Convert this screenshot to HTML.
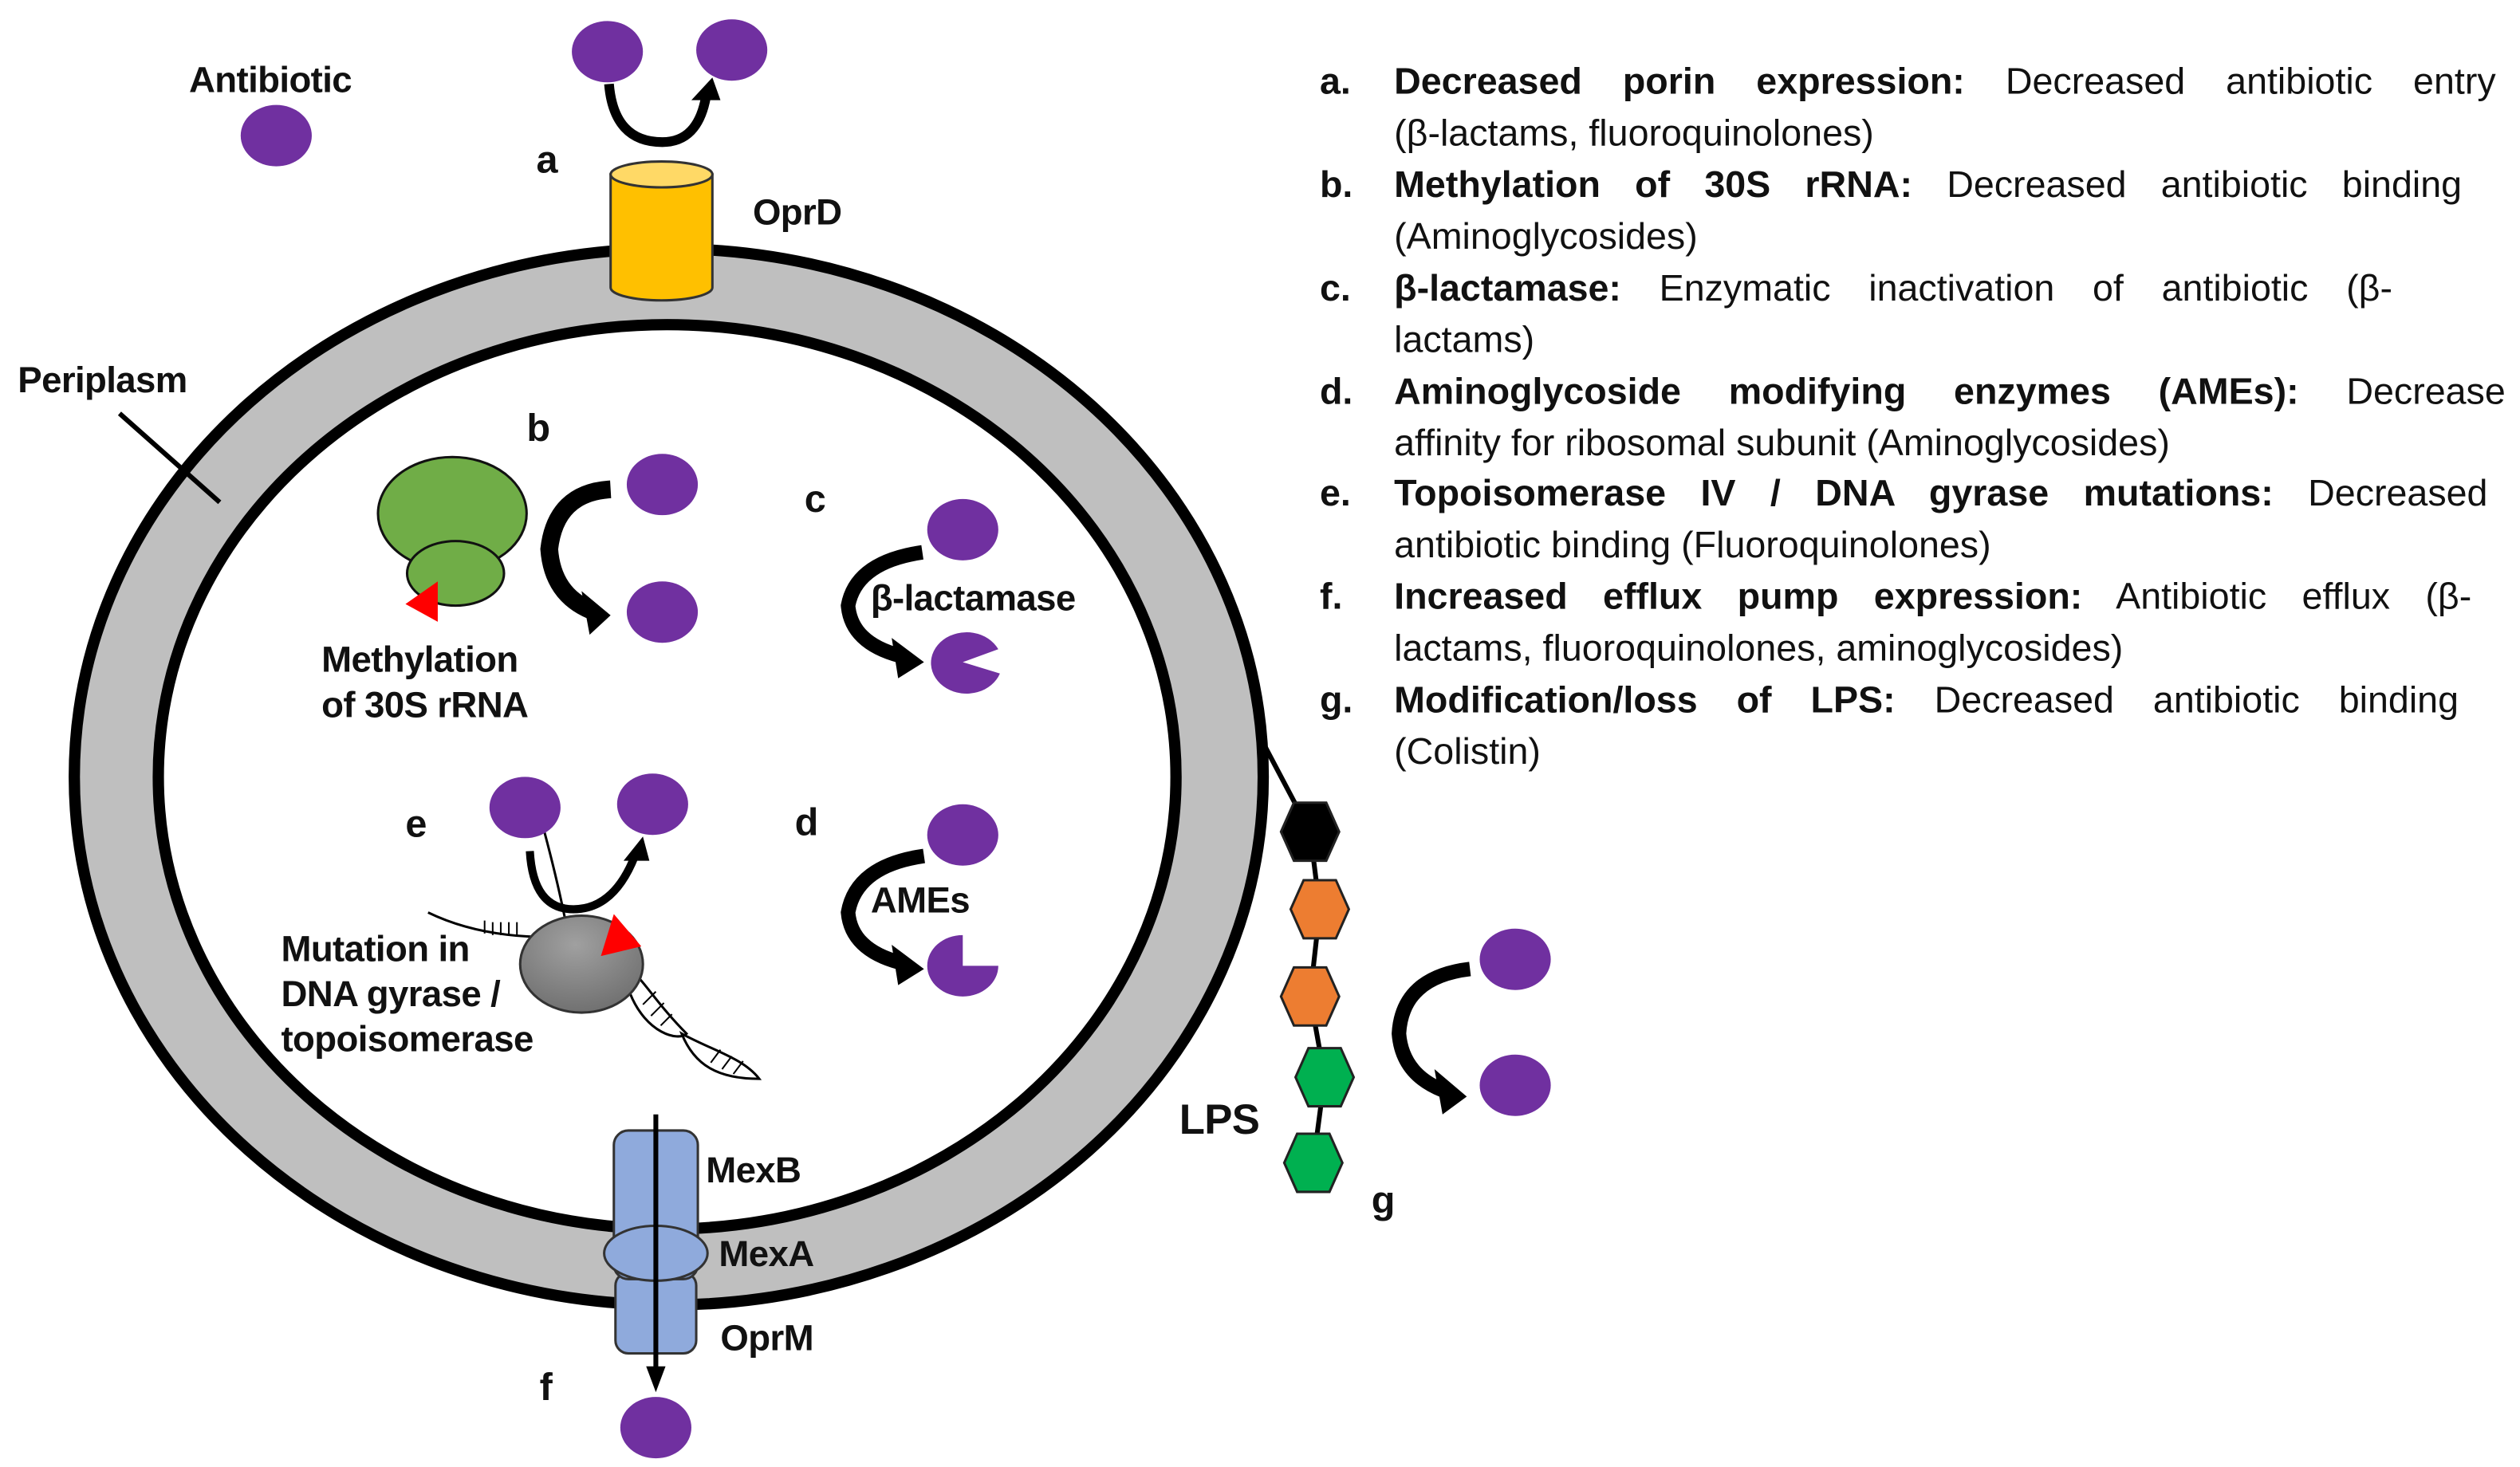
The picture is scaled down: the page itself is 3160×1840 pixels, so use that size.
<!DOCTYPE html>
<html><head><meta charset="utf-8"><style>
html,body{margin:0;padding:0;background:#fff;}
#wrap{width:3160px;height:1840px;overflow:hidden;position:relative;}
#c{position:absolute;left:0;top:0;width:1560px;height:908px;transform:scale(2.02564);transform-origin:0 0;font-family:"Liberation Sans",Arial,sans-serif;}
.lab{position:absolute;font-family:"Liberation Sans",sans-serif;font-weight:bold;font-size:22.5px;color:#111;white-space:nowrap;line-height:1;letter-spacing:-0.3px;}
.L{position:absolute;font-size:23px;color:#111;white-space:nowrap;line-height:1;}
.ln{position:absolute;left:863px;width:682px;font-size:23px;color:#111;line-height:1;text-align:justify;text-align-last:justify;white-space:nowrap;}
.ln.last{text-align-last:left;}
b{font-weight:bold;}
</style></head><body><div id="wrap"><div id="c">
<svg width="1560" height="908" viewBox="0 0 1560 908" style="position:absolute;left:0;top:0">
<defs>
<radialGradient id="gg" cx="0.45" cy="0.3" r="0.8"><stop offset="0" stop-color="#a0a0a0"/><stop offset="1" stop-color="#6a6a6a"/></radialGradient>
</defs>
<ellipse cx="414" cy="481" rx="368" ry="327" fill="#bfbfbf" stroke="#000" stroke-width="7"/>
<ellipse cx="413" cy="481" rx="315" ry="280" fill="#fff" stroke="#000" stroke-width="7"/>
<line x1="74" y1="256" x2="136" y2="311" stroke="#000" stroke-width="3"/>
<ellipse cx="171" cy="84" rx="22" ry="19" fill="#7030a0"/>
<ellipse cx="376" cy="32" rx="22" ry="19" fill="#7030a0"/>
<ellipse cx="453" cy="31" rx="22" ry="19" fill="#7030a0"/>
<path d="M377 52 Q380 88 410 88 Q432 88 437 60" fill="none" stroke="#000" stroke-width="6"/>
<polygon points="428,62 446,62 441,48" fill="#000"/>
<path d="M378 108 L378 178 A31.5 8 0 0 0 441 178 L441 108 Z" fill="#ffc000" stroke="#333" stroke-width="1.5"/>
<ellipse cx="409.5" cy="108" rx="31.5" ry="8" fill="#ffd966" stroke="#333" stroke-width="1.5"/>
<ellipse cx="280" cy="318" rx="46" ry="35" fill="#70ad47" stroke="#111" stroke-width="1.5"/>
<ellipse cx="282" cy="355" rx="30" ry="20" fill="#70ad47" stroke="#111" stroke-width="1.5"/>
<polygon points="251,374 271,360 271,385" fill="#ff0000"/>
<ellipse cx="410" cy="300" rx="22" ry="19" fill="#7030a0"/>
<ellipse cx="410" cy="379" rx="22" ry="19" fill="#7030a0"/>
<path d="M378 303 Q344 305 340 340 Q342 368 366 378" fill="none" stroke="#000" stroke-width="11"/>
<polygon points="360,366 378,381 365,393" fill="#000"/>
<ellipse cx="596" cy="328" rx="22" ry="19" fill="#7030a0"/>
<path d="M571 342 Q530 348 525 375 Q527 398 557 406" fill="none" stroke="#000" stroke-width="9"/>
<polygon points="552,395 572,410 556,420" fill="#000"/>
<path d="M596 410 L618 402 A22 19 0 1 0 619 417 Z" fill="#7030a0"/>
<ellipse cx="596" cy="517" rx="22" ry="19" fill="#7030a0"/>
<path d="M572 530 Q530 536 525 565 Q527 588 557 596" fill="none" stroke="#000" stroke-width="9"/>
<polygon points="552,585 572,600 556,610" fill="#000"/>
<path d="M596 598 L618 598 A22 19 0 1 1 596 579 Z" fill="#7030a0"/>
<path d="M265 565 Q300 582 350 580" fill="none" stroke="#000" stroke-width="1.5"/>
<g stroke="#000" stroke-width="1">
<line x1="300" y1="570" x2="300" y2="578"/><line x1="305" y1="571" x2="305" y2="579"/><line x1="310" y1="571" x2="310" y2="579"/><line x1="315" y1="571" x2="315" y2="579"/><line x1="320" y1="571" x2="320" y2="579"/>
</g>
<path d="M337 515 Q345 545 350 570" fill="none" stroke="#000" stroke-width="1.5"/>
<path d="M390 615 C400 640 420 645 425 640 C410 625 400 610 395 605 Z" fill="#fff" stroke="#000" stroke-width="1.5"/>
<path d="M422 640 C440 650 460 655 470 668 C445 668 430 660 422 640 Z" fill="#fff" stroke="#000" stroke-width="1.5"/>
<g stroke="#000" stroke-width="1"><line x1="398" y1="622" x2="406" y2="614"/><line x1="403" y1="629" x2="411" y2="621"/><line x1="409" y1="635" x2="416" y2="628"/><line x1="440" y1="658" x2="446" y2="650"/><line x1="447" y1="662" x2="453" y2="654"/><line x1="454" y1="665" x2="460" y2="657"/></g>
<ellipse cx="360" cy="597" rx="38" ry="30" fill="url(#gg)" stroke="#333" stroke-width="1.5"/>
<polygon points="372,592 380,566 397,586" fill="#ff0000"/>
<ellipse cx="325" cy="500" rx="22" ry="19" fill="#7030a0"/>
<ellipse cx="404" cy="498" rx="22" ry="19" fill="#7030a0"/>
<path d="M328 527 Q330 563 355 563 Q380 563 393 530" fill="none" stroke="#000" stroke-width="5"/>
<polygon points="386,533 402,533 398,518" fill="#000"/>
<rect x="381" y="788" width="50" height="50" rx="8" fill="#8faadc" stroke="#333" stroke-width="1.5"/>
<rect x="380" y="700" width="52" height="92" rx="9" fill="#8faadc" stroke="#333" stroke-width="1.5"/>
<ellipse cx="406" cy="776" rx="32" ry="17" fill="#8faadc" stroke="#333" stroke-width="1.5"/>
<line x1="406" y1="690" x2="406" y2="848" stroke="#000" stroke-width="3"/>
<polygon points="400,846 412,846 406,862" fill="#000"/>
<ellipse cx="406" cy="884" rx="22" ry="19" fill="#7030a0"/>
<polyline points="783,462 811,515 817,563 811,617 820,667 813,720" fill="none" stroke="#000" stroke-width="3"/>
<g stroke="#222" stroke-width="1.5">
<polygon points="801,497 821,497 829,515 821,533 801,533 793,515" fill="#000"/>
<polygon points="807,545 827,545 835,563 827,581 807,581 799,563" fill="#ed7d31"/>
<polygon points="801,599 821,599 829,617 821,635 801,635 793,617" fill="#ed7d31"/>
<polygon points="810,649 830,649 838,667 830,685 810,685 802,667" fill="#00b050"/>
<polygon points="803,702 823,702 831,720 823,738 803,738 795,720" fill="#00b050"/>
</g>
<ellipse cx="938" cy="594" rx="22" ry="19" fill="#7030a0"/>
<ellipse cx="938" cy="672" rx="22" ry="19" fill="#7030a0"/>
<path d="M910 600 Q868 605 866 640 Q868 665 893 675" fill="none" stroke="#000" stroke-width="9"/>
<polygon points="888,662 908,679 893,690" fill="#000"/>
</svg>
<div class="lab" style="left:117px;top:39px">Antibiotic</div>
<div class="lab" style="left:332px;top:88px;font-size:24px">a</div>
<div class="lab" style="left:466px;top:121px">OprD</div>
<div class="lab" style="left:11px;top:225px">Periplasm</div>
<div class="lab" style="left:326px;top:254px;font-size:24px">b</div>
<div class="lab" style="left:199px;top:398px">Methylation</div>
<div class="lab" style="left:199px;top:426px">of 30S rRNA</div>
<div class="lab" style="left:498px;top:298px;font-size:24px">c</div>
<div class="lab" style="left:539px;top:360px">β-lactamase</div>
<div class="lab" style="left:251px;top:499px;font-size:24px">e</div>
<div class="lab" style="left:174px;top:577px">Mutation in</div>
<div class="lab" style="left:174px;top:605px">DNA gyrase /</div>
<div class="lab" style="left:174px;top:633px">topoisomerase</div>
<div class="lab" style="left:492px;top:498px;font-size:24px">d</div>
<div class="lab" style="left:539px;top:547px">AMEs</div>
<div class="lab" style="left:437px;top:714px">MexB</div>
<div class="lab" style="left:445px;top:766px">MexA</div>
<div class="lab" style="left:446px;top:818px">OprM</div>
<div class="lab" style="left:334px;top:848px;font-size:24px">f</div>
<div class="lab" style="left:730px;top:680px;font-size:26px">LPS</div>
<div class="lab" style="left:849px;top:732px;font-size:24px">g</div>

<div class="L" style="left:817px;top:39px"><b>a.</b></div>
<div class="ln" style="top:39px"><b>Decreased porin expression:</b> Decreased antibiotic entry</div>
<div class="ln last" style="top:71px">(β-lactams, fluoroquinolones)</div>
<div class="L" style="left:817px;top:103px"><b>b.</b></div>
<div class="ln" style="top:103px;width:661px"><b>Methylation of 30S rRNA:</b> Decreased antibiotic binding</div>
<div class="ln last" style="top:135px">(Aminoglycosides)</div>
<div class="L" style="left:817px;top:167px"><b>c.</b></div>
<div class="ln" style="top:167px;width:618px"><b>β-lactamase:</b> Enzymatic inactivation of antibiotic (β-</div>
<div class="ln last" style="top:199px">lactams)</div>
<div class="L" style="left:817px;top:231px"><b>d.</b></div>
<div class="ln" style="top:231px;width:688px"><b>Aminoglycoside modifying enzymes (AMEs):</b> Decrease</div>
<div class="ln last" style="top:263px">affinity for ribosomal subunit (Aminoglycosides)</div>
<div class="L" style="left:817px;top:294px"><b>e.</b></div>
<div class="ln" style="top:294px;width:677px"><b>Topoisomerase IV / DNA gyrase mutations:</b> Decreased</div>
<div class="ln last" style="top:326px">antibiotic binding (Fluoroquinolones)</div>
<div class="L" style="left:817px;top:358px"><b>f.</b></div>
<div class="ln" style="top:358px;width:667px"><b>Increased efflux pump expression:</b> Antibiotic efflux (β-</div>
<div class="ln last" style="top:390px">lactams, fluoroquinolones, aminoglycosides)</div>
<div class="L" style="left:817px;top:422px"><b>g.</b></div>
<div class="ln" style="top:422px;width:659px"><b>Modification/loss of LPS:</b> Decreased antibiotic binding</div>
<div class="ln last" style="top:454px">(Colistin)</div>
</div></div></body></html>
